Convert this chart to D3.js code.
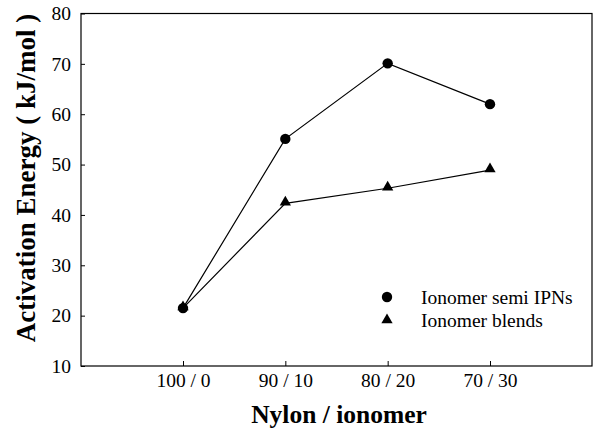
<!DOCTYPE html>
<html><head><meta charset="utf-8">
<script src="https://cdn.jsdelivr.net/npm/d3@7"></script>
<style>body{margin:0;background:#fff}svg{display:block}</style>
</head><body>
<svg id="c" width="595" height="434"></svg>
<script>
const categories = ["100 / 0", "90 / 10", "80 / 20", "70 / 30"];
const semiIPN = [21.5, 55.1, 70.1, 62.0];
const blends = [21.5, 42.3, 45.3, 48.9];
const yTicks = [10, 20, 30, 40, 50, 60, 70, 80];
const seriesNames = ["Ionomer semi IPNs", "Ionomer blends"];

const svg = d3.select("#c");
const L = 81, R = 592, T = 13.5, B = 366;
const font = "'Liberation Serif', 'Times New Roman', serif";

const x = d3.scalePoint().domain(categories).range([183, 490]);
const y = d3.scaleLinear().domain([10, 80]).range([B, T]);

svg.append("rect").attr("x", L).attr("y", T).attr("width", R - L).attr("height", B - T)
  .attr("fill", "none").attr("stroke", "#000").attr("stroke-width", 1.2);

const xa = svg.append("g").attr("transform", `translate(0,${B})`)
  .call(d3.axisBottom(x).tickSizeInner(-5).tickSizeOuter(0).tickPadding(7));
xa.select(".domain").remove();
xa.selectAll("text").attr("font-family", font).attr("font-size", 19.5).attr("fill", "#000");
xa.selectAll("line").attr("stroke", "#000");

const ya = svg.append("g").attr("transform", `translate(${L},0)`)
  .call(d3.axisLeft(y).tickValues(yTicks).tickSizeInner(-4).tickSizeOuter(0).tickPadding(10));
ya.select(".domain").remove();
ya.selectAll("text").attr("font-family", font).attr("font-size", 19.5).attr("fill", "#000");
ya.selectAll("line").attr("stroke", "#000");

const line = d3.line().x((d, i) => x(categories[i])).y(d => y(d));
[semiIPN, blends].forEach(s => {
  svg.append("path").attr("d", line(s)).attr("fill", "none").attr("stroke", "#000").attr("stroke-width", 1.2);
});
const circ = d3.symbol().type(d3.symbolCircle).size(85);
const tri = d3.symbol().type(d3.symbolTriangle).size(55);
svg.selectAll(".p1").data(semiIPN).enter().append("path")
  .attr("transform", (d, i) => `translate(${x(categories[i])},${y(d)})`).attr("d", circ).attr("fill", "#000");
svg.selectAll(".p2").data(blends).enter().append("path")
  .attr("transform", (d, i) => `translate(${x(categories[i])},${y(d) - 1})`).attr("d", tri).attr("fill", "#000");

const lg = svg.append("g");
lg.append("path").attr("transform", "translate(387,297)").attr("d", circ).attr("fill", "#000");
lg.append("path").attr("transform", "translate(387,320)").attr("d", tri).attr("fill", "#000");
lg.append("text").attr("x", 421).attr("y", 304).text(seriesNames[0])
  .attr("font-family", font).attr("font-size", 19.5);
lg.append("text").attr("x", 421).attr("y", 327).text(seriesNames[1])
  .attr("font-family", font).attr("font-size", 19.5);

svg.append("text").attr("x", 339).attr("y", 423).attr("text-anchor", "middle")
  .attr("font-family", font).attr("font-weight", "bold").attr("font-size", 25.5).text("Nylon / ionomer");
svg.append("text").attr("transform", "translate(35,178) rotate(-90)").attr("text-anchor", "middle")
  .attr("font-family", font).attr("font-weight", "bold").attr("font-size", 27).text("Activation Energy ( kJ/mol )");
</script>
</body></html>
